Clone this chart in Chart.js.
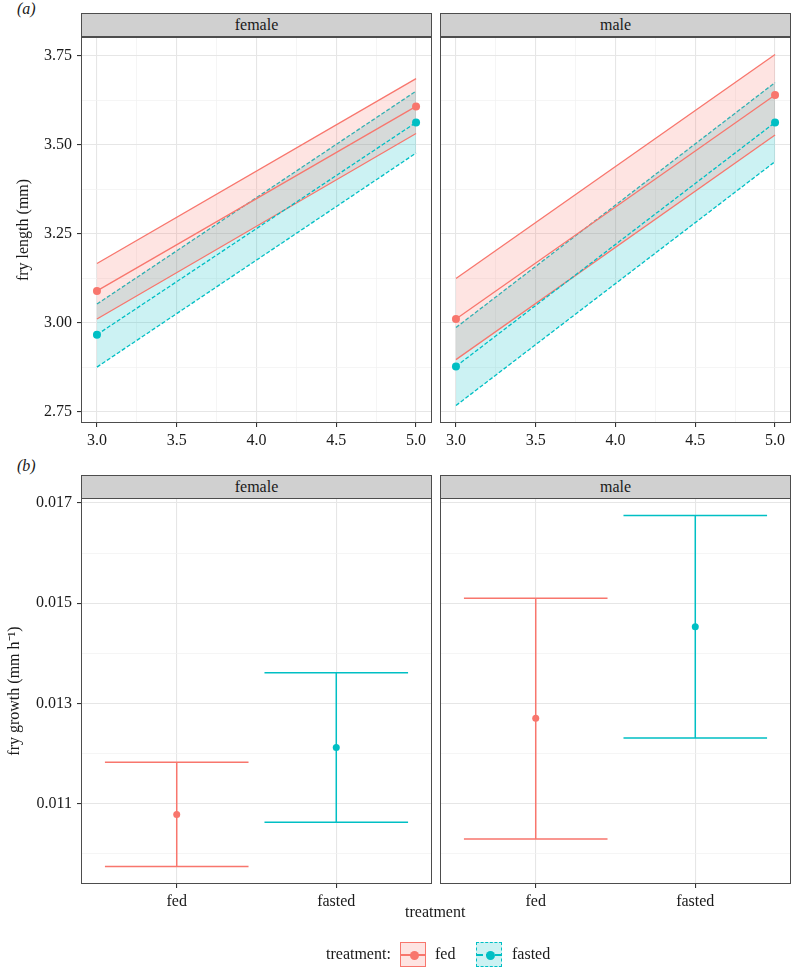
<!DOCTYPE html>
<html>
<head>
<meta charset="utf-8">
<script src="https://cdn.jsdelivr.net/npm/chart.js@4"></script>
<style>
  body { margin: 0; background: #fff; font-family: 'Liberation Serif', serif; color: #1a1a1a; }
  #wrap { position: relative; width: 791px; height: 968px; overflow: hidden; }
  canvas { position: absolute; }
  .strip { position: absolute; box-sizing: border-box; height: 24px; background: #d0d0d0;
           border: 1px solid #4d4d4d; font-size: 16px; text-align: center; line-height: 22px; }
  .tag { position: absolute; font-size: 16px; font-style: italic; }
  .txt { position: absolute; font-size: 16px; line-height: 18px; white-space: nowrap; }
  .key { position: absolute; box-sizing: border-box; width: 26px; height: 25px; top: 942px; }
  .key .ln { position: absolute; left: 0; right: 0; top: 11px; height: 0; }
  .key .dot { position: absolute; left: 8.5px; top: 7.5px; width: 9px; height: 9px; border-radius: 50%; }
</style>
</head>
<body>
<div id="wrap">
  <canvas id="lenFemale" width="432" height="426" style="left:0;top:27px;"></canvas>
  <canvas id="lenMale" width="351" height="426" style="left:440px;top:27px;"></canvas>
  <canvas id="growFemale" width="432" height="426" style="left:0;top:488px;"></canvas>
  <canvas id="growMale" width="351" height="426" style="left:440px;top:488px;"></canvas>

  <div class="tag" style="left:17px;top:0px;">(a)</div>
  <div class="tag" style="left:17px;top:457px;">(b)</div>

  <div class="strip" style="left:81px;top:13px;width:351px;">female</div>
  <div class="strip" style="left:440px;top:13px;width:351px;">male</div>
  <div class="strip" style="left:81px;top:475px;width:351px;">female</div>
  <div class="strip" style="left:440px;top:475px;width:351px;">male</div>

  <div class="txt" style="left:405px;top:903px;">treatment</div>

  <div class="txt" style="left:326px;top:945px;">treatment:</div>
  <div class="key" style="left:400px;border:1px solid #F8766D;background:rgba(248,118,109,0.2);">
    <i class="ln" style="border-top:2px solid #F8766D;"></i><i class="dot" style="background:#F8766D;"></i>
  </div>
  <div class="txt" style="left:435px;top:945px;">fed</div>
  <div class="key" style="left:476px;border:1px dashed #00BFC4;background:rgba(0,191,196,0.2);">
    <i class="ln" style="border-top:2px dashed #00BFC4;"></i><i class="dot" style="background:#00BFC4;"></i>
  </div>
  <div class="txt" style="left:512px;top:945px;">fasted</div>
</div>

<script>
// panel (a): fry length at 3 and 5 (fitted line, ribbon limits)
const timePoints = [3, 5];
const femaleFedFit     = [3.089, 3.607];
const femaleFedLow     = [3.010, 3.531];
const femaleFedHigh    = [3.166, 3.685];
const femaleFastedFit  = [2.966, 3.562];
const femaleFastedLow  = [2.875, 3.476];
const femaleFastedHigh = [3.052, 3.650];
const maleFedFit       = [3.010, 3.639];
const maleFedLow       = [2.896, 3.527];
const maleFedHigh      = [3.124, 3.753];
const maleFastedFit    = [2.877, 3.562];
const maleFastedLow    = [2.767, 3.452];
const maleFastedHigh   = [2.986, 3.674];

// panel (b): fry growth, mean and interval
const treatments = ['fed', 'fasted'];
const femaleGrowth     = [0.010785, 0.012121];
const femaleGrowthLow  = [0.009748, 0.010631];
const femaleGrowthHigh = [0.011828, 0.013616];
const maleGrowth       = [0.012705, 0.014533];
const maleGrowthLow    = [0.010300, 0.012314];
const maleGrowthHigh   = [0.015098, 0.016753];

// axis breaks
const lenXMajor = [3, 3.5, 4, 4.5, 5];
const lenXMinor = [3.25, 3.75, 4.25, 4.75];
const lenYMajor = [2.75, 3.0, 3.25, 3.5, 3.75];
const lenYMinor = [2.875, 3.125, 3.375, 3.625];
const growYMajor = [0.011, 0.013, 0.015, 0.017];
const growYMinor = [0.010, 0.012, 0.014, 0.016];

const FED = '#F8766D', FASTED = '#00BFC4';
const FED_FILL = 'rgba(248,118,109,0.2)', FASTED_FILL = 'rgba(0,191,196,0.2)';
const FONT = { family: 'Liberation Serif', size: 16 };

const panelBox = {
  id: 'panelBox',
  afterDraw(chart) {
    const { ctx, chartArea: a } = chart;
    ctx.save();
    ctx.strokeStyle = '#4d4d4d';
    ctx.lineWidth = 1;
    ctx.strokeRect(a.left + 0.5, a.top + 0.5, a.width - 1, a.height - 1);
    ctx.restore();
  }
};

function tickList(majors, minors) {
  return majors.map(v => ({ value: v }))
    .concat(minors.map(v => ({ value: v, minorTick: true })))
    .sort((a, b) => a.value - b.value);
}

function grid(showTicks) {
  return {
    color: c => c.tick && c.tick.minorTick ? '#f1f1f1' : '#e6e6e6',
    lineWidth: c => c.tick && c.tick.minorTick ? 0.7 : 1.1,
    drawTicks: showTicks,
    tickLength: 4,
    tickWidth: 1.1,
    tickColor: c => c.tick && c.tick.minorTick ? 'rgba(0,0,0,0)' : '#333'
  };
}

function noPad(s) {
  s.paddingTop = 0; s.paddingBottom = 0; s.paddingLeft = 0; s.paddingRight = 0;
}

function xAxis(min, max, majors, minors, fmt) {
  return {
    type: 'linear', min, max,
    afterBuildTicks: s => { s.ticks = tickList(majors, minors); },
    afterFit: s => { s.height = 30; noPad(s); },
    border: { display: false },
    grid: grid(true),
    ticks: {
      autoSkip: false, maxRotation: 0, padding: 4, color: '#1a1a1a', font: FONT,
      callback: (v, i, t) => t[i].minorTick ? '' : fmt(v)
    }
  };
}

function yAxis(min, max, majors, minors, digits, title, titlePad) {
  const left = !!title;
  return {
    type: 'linear', min, max,
    afterBuildTicks: s => { s.ticks = tickList(majors, minors); },
    afterFit: s => { s.width = left ? 81 : 0; noPad(s); },
    border: { display: false },
    grid: grid(left),
    title: {
      display: left, text: title, color: '#1a1a1a', font: FONT,
      padding: { top: titlePad, bottom: 0 }
    },
    ticks: {
      display: left, autoSkip: false, padding: 5, color: '#1a1a1a', font: FONT,
      callback: (v, i, t) => t[i].minorTick ? '' : v.toFixed(digits)
    }
  };
}

const pts = (xs, ys) => xs.map((x, i) => ({ x, y: ys[i] }));

// top padding leaves room for the top tick label under the strip
const baseOptions = () => ({
  responsive: false, animation: false, devicePixelRatio: 1,
  layout: { padding: { top: 10, left: 0, right: 0, bottom: 0 }, autoPadding: false },
  plugins: { legend: { display: false }, tooltip: { enabled: false } }
});

function lengthChart(id, fedFit, fedLow, fedHigh, fasFit, fasLow, fasHigh, title) {
  const line = (data, color, dash, extra) => Object.assign({
    data, borderColor: color, borderWidth: 1.3, borderDash: dash,
    pointRadius: 0, fill: false, tension: 0
  }, extra || {});
  const options = baseOptions();
  options.scales = {
    x: xAxis(2.9, 5.1, lenXMajor, lenXMinor, v => v.toFixed(1)),
    y: yAxis(2.718, 3.802, lenYMajor, lenYMinor, 2, title, 14)
  };
  return new Chart(document.getElementById(id), {
    type: 'line',
    data: {
      datasets: [
        { data: pts(timePoints, fedFit), showLine: false, pointRadius: 4, pointBackgroundColor: FED, pointBorderWidth: 0 },
        { data: pts(timePoints, fasFit), showLine: false, pointRadius: 4, pointBackgroundColor: FASTED, pointBorderWidth: 0 },
        line(pts(timePoints, fedFit), FED, []),
        line(pts(timePoints, fasFit), FASTED, [4, 2]),
        line(pts(timePoints, fedLow), FED, []),
        line(pts(timePoints, fedHigh), FED, [], { fill: 4, backgroundColor: FED_FILL }),
        line(pts(timePoints, fasLow), FASTED, [4, 2]),
        line(pts(timePoints, fasHigh), FASTED, [4, 2], { fill: 6, backgroundColor: FASTED_FILL })
      ]
    },
    options,
    plugins: [panelBox]
  });
}

const capWidth = 0.9;
function errorBar(i, lo, hi) {
  const c = i + 1, h = capWidth / 2;
  return [
    { x: c - h, y: hi }, { x: c + h, y: hi }, { x: c, y: null },
    { x: c, y: hi }, { x: c, y: lo }, { x: c, y: null },
    { x: c - h, y: lo }, { x: c + h, y: lo }
  ];
}

function growthChart(id, mean, lo, hi, title) {
  const colors = [FED, FASTED];
  const datasets = [];
  treatments.forEach((t, i) => {
    datasets.push({ data: [{ x: i + 1, y: mean[i] }], showLine: false, pointRadius: 3.5,
      pointBackgroundColor: colors[i], pointBorderWidth: 0 });
  });
  treatments.forEach((t, i) => {
    datasets.push({ data: errorBar(i, lo[i], hi[i]), borderColor: colors[i], borderWidth: 1.5,
      pointRadius: 0, spanGaps: false, fill: false, tension: 0 });
  });
  const options = baseOptions();
  options.scales = {
    x: xAxis(0.4, 2.6, treatments.map((t, i) => i + 1), [], v => treatments[v - 1]),
    y: yAxis(0.0094, 0.0171, growYMajor, growYMinor, 3, title, 5)
  };
  return new Chart(document.getElementById(id), {
    type: 'line',
    data: { datasets },
    options,
    plugins: [panelBox]
  });
}

lengthChart('lenFemale', femaleFedFit, femaleFedLow, femaleFedHigh,
  femaleFastedFit, femaleFastedLow, femaleFastedHigh, 'fry length (mm)');
lengthChart('lenMale', maleFedFit, maleFedLow, maleFedHigh,
  maleFastedFit, maleFastedLow, maleFastedHigh, null);
growthChart('growFemale', femaleGrowth, femaleGrowthLow, femaleGrowthHigh, 'fry growth (mm h\u207B\u00B9)');
growthChart('growMale', maleGrowth, maleGrowthLow, maleGrowthHigh, null);
</script>
</body>
</html>
